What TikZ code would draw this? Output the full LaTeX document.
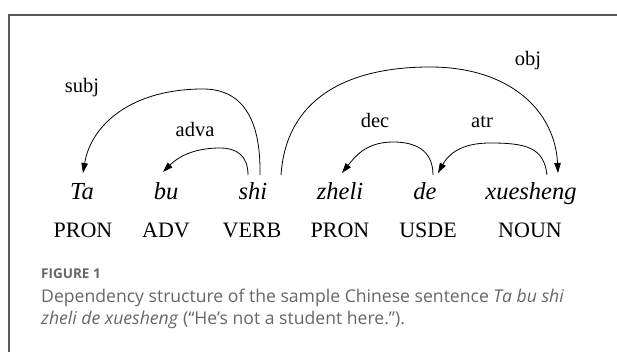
\documentclass[tikz,border=0pt]{standalone}
\usepackage{fontspec}
\setmainfont{Liberation Serif}
\newfontfamily\capfont[Ligatures=TeX]{Open Sans}
\usetikzlibrary{arrows.meta}
\definecolor{framegray}{HTML}{5A5A5A}
\definecolor{capgray}{HTML}{666666}
\begin{document}
\begin{tikzpicture}[x=1pt,y=-1pt,
  word/.style={anchor=base,inner sep=0pt,font=\fontsize{24.5}{28}\selectfont\itshape},
  tag/.style={anchor=base,inner sep=0pt,font=\fontsize{22}{26}\selectfont},
  rel/.style={anchor=base,inner sep=0pt,font=\fontsize{20.5}{24}\selectfont},
  dep/.style={line width=0.8pt,-{Triangle[length=10pt,width=6.5pt]}},
  capline/.style={anchor=base west,inner sep=0pt,text=capgray,font=\capfont\fontsize{17.6}{22}\selectfont}]
\useasboundingbox (0,0) rectangle (617,352);
\draw[framegray,line width=1.4pt] (9,352) -- (9,15) -- (617,15);
% words
\node[word] (ta) at (82,200) {Ta};
\node[word] (bu) at (166,200) {bu};
\node[word] (shi) at (253,200) {shi};
\node[word] (zheli) at (340,200) {zheli};
\node[word] (de) at (425,200) {de};
\node[word] (xs) at (531,200) {xuesheng};
% tags
\node[tag] (t1) at (83,237) {PRON};
\node[tag] (t2) at (166,237) {ADV};
\node[tag] (t3) at (252,237) {VERB};
\node[tag] (t4) at (340,237) {PRON};
\node[tag] (t5) at (428,237) {USDE};
\node[tag] (t6) at (530,237) {NOUN};
% peaks
\coordinate (psubj) at (203,89);
\coordinate (padva) at (220,148);
\coordinate (pobj) at (430,67);
\coordinate (pdec) at (393,142);
\coordinate (patr) at (490,143);
% arcs
\draw[dep] ([xshift=7pt,yshift=25pt]shi.base) .. controls +(1,-58) and +(38,0) .. (psubj)
  .. controls +(-72,0) and +(8,-48) .. ([xshift=1pt,yshift=27pt]ta.base);
\draw[dep] ([xshift=-5pt,yshift=25pt]shi.base) .. controls +(0,-20) and +(16,0) .. (padva)
  .. controls +(-28,0) and +(14,-14) .. ([xshift=-3pt,yshift=28pt]bu.base);
\draw[dep] ([xshift=28pt,yshift=25pt]shi.base) .. controls +(5,-75) and +(-85,0) .. (pobj)
  .. controls +(80,0) and +(-3,-62) .. ([xshift=27pt,yshift=27pt]xs.base);
\draw[dep] ([xshift=8pt,yshift=25pt]de.base) .. controls +(0,-25) and +(22,0) .. (pdec)
  .. controls +(-28,0) and +(12,-15) .. ([xshift=2pt,yshift=27pt]zheli.base);
\draw[dep] ([xshift=16pt,yshift=25pt]xs.base) .. controls +(-3,-28) and +(35,0) .. (patr)
  .. controls +(-30,0) and +(10,-18) .. ([xshift=13pt,yshift=27pt]de.base);
% labels
\node[rel] (lsubj) at (82,93) {subj};
\node[rel] (ladva) at (195,137) {adva};
\node[rel] (lobj) at (528,66) {obj};
\node[rel] (ldec) at (375,128) {dec};
\node[rel] (latr) at (482,128) {atr};
% caption
\node[anchor=base west,inner sep=0pt,text=capgray,font=\capfont\bfseries\fontsize{13.5}{15}\selectfont] (fig) at (41,278) {FIGURE 1};
\node[capline] (cap1) at (41,302) {Dependency structure of the sample Chinese sentence \textit{Ta bu shi}};
\node[capline] (cap2) at (41,324) {\textit{zheli de xuesheng} (“He’s not a student here.”).};
\end{tikzpicture}
\end{document}
